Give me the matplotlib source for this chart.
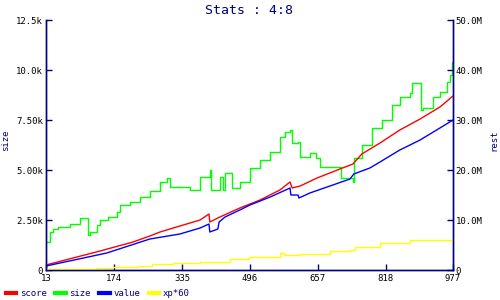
import matplotlib
matplotlib.use('Agg')
import matplotlib.pyplot as plt

# size (left axis) - step-like trace
size_x = [13, 22, 30, 41, 70, 86, 94, 110, 112, 117, 134, 141, 160, 181, 188, 212,
          236, 259, 283, 300, 307, 330, 354, 378, 401, 404, 425, 432, 437, 449, 454,
          472, 496, 520, 544, 567, 579, 591, 596, 610, 615, 638, 652, 662, 709, 712,
          740, 742, 761, 785, 809, 832, 851, 875, 880, 899, 901, 906, 930, 946, 963,
          970, 975, 977]
size_y = [1400, 1900, 2050, 2150, 2300, 2300, 2600, 2600, 1750, 1900, 2250, 2500,
          2650, 2900, 3250, 3400, 3650, 3950, 4400, 4600, 4150, 4150, 4000, 4650,
          5000, 4000, 4650, 4000, 4850, 4850, 4100, 4400, 5100, 5500, 5900, 6650,
          6900, 7000, 6350, 6400, 5650, 5850, 5600, 5150, 5150, 4600, 4400, 5600,
          6250, 7100, 7500, 8250, 8650, 8850, 9350, 9350, 8000, 8100, 8650, 8900,
          9400, 9750, 10400, 10400]

# score / value / xp*60 (right axis, millions)
score_x = [13, 141, 219, 259, 283, 330, 378, 399, 401, 425, 472, 496, 520, 567, 591,
           596, 615, 655, 709, 740, 761, 804, 851, 899, 946, 977]
score_y = [1.0, 3.8, 5.6, 6.8, 7.6, 8.8, 10.0, 11.2, 9.6, 10.6, 12.4, 13.2, 14.0,
           16.0, 17.6, 16.4, 16.8, 18.4, 20.2, 21.2, 23.2, 25.4, 28.0, 30.2, 32.6, 34.8]

value_x = [13, 157, 259, 330, 378, 399, 401, 420, 423, 437, 472, 496, 544, 591, 593,
           610, 612, 638, 733, 742, 780, 804, 851, 899, 946, 977]
value_y = [0.8, 3.4, 6.2, 7.2, 8.4, 9.2, 7.6, 8.2, 9.6, 10.6, 12.0, 13.0, 14.6, 16.4,
           15.0, 15.0, 14.4, 15.4, 18.2, 19.2, 20.4, 21.6, 24.0, 26.0, 28.4, 30.0]

xp_x = [13, 131, 172, 231, 264, 314, 378, 449, 494, 567, 577, 615, 686, 733, 745,
        804, 875, 977]
xp_y = [0.2, 0.4, 0.6, 0.8, 1.2, 1.4, 1.6, 2.2, 2.6, 3.4, 3.0, 3.2, 3.8, 4.0, 4.6,
        5.4, 6.0, 6.8]

x_ticks = [13, 174, 335, 496, 657, 818, 977]
left_ticks = [0, 2500, 5000, 7500, 10000, 12500]
left_labels = ['0', '2.50k', '5.00k', '7.50k', '10.0k', '12.5k']
right_ticks = [0, 10, 20, 30, 40, 50]
right_labels = ['0', '10.0M', '20.0M', '30.0M', '40.0M', '50.0M']

navy = '#000080'
mono = 'DejaVu Sans Mono'

fig = plt.figure(figsize=(5, 3), dpi=100)
ax = fig.add_axes([0.092, 0.1, 0.814, 0.8333])
ax2 = ax.twinx()

l_size, = ax.plot(size_x, size_y, color='#00ff00', lw=1.0, drawstyle='steps-post', label='size')
l_score, = ax2.plot(score_x, score_y, color='#ff0000', lw=1.0, label='score')
l_value, = ax2.plot(value_x, value_y, color='#0000ff', lw=1.0, label='value')
l_xp, = ax2.plot(xp_x, xp_y, color='#ffff00', lw=1.0, drawstyle='steps-post', label='xp*60')

ax.set_xlim(13, 977)
ax.set_ylim(0, 12500)
ax2.set_ylim(0, 50)
ax.set_xticks(x_ticks)
ax.set_xticklabels([str(t) for t in x_ticks], fontsize=6.5, family=mono)
ax.set_yticks(left_ticks)
ax.set_yticklabels(left_labels, fontsize=6.5, family=mono)
ax2.set_yticks(right_ticks)
ax2.set_yticklabels(right_labels, fontsize=6.5, family=mono)

for a in (ax, ax2):
    a.spines['top'].set_visible(False)
    for s in ('left', 'right', 'bottom'):
        a.spines[s].set_color(navy)
        a.spines[s].set_linewidth(1.0)
    a.tick_params(direction='in', length=4, width=1.0, color=navy, pad=2)
ax.tick_params(axis='x', pad=3)

ax.set_ylabel('size', color=navy, fontsize=6.5, family=mono)
ax.yaxis.set_label_coords(-0.089, 0.52)
ax2.set_ylabel('rest', color=navy, fontsize=6.5, family=mono)
ax2.yaxis.set_label_coords(1.09, 0.52)
ax.set_title('Stats : 4:8', color=navy, fontsize=9.5, family=mono, pad=4)

leg = fig.legend(handles=[l_score, l_size, l_value, l_xp], loc='center left',
                 bbox_to_anchor=(-0.005, 0.02), ncol=4, frameon=False,
                 handlelength=1.2, handletextpad=0.4, columnspacing=0.9,
                 prop={'family': mono, 'size': 6.5})
for h in leg.get_lines():
    h.set_linewidth(3)
for t in leg.get_texts():
    t.set_color(navy)

fig.savefig('out.png', dpi=100)
